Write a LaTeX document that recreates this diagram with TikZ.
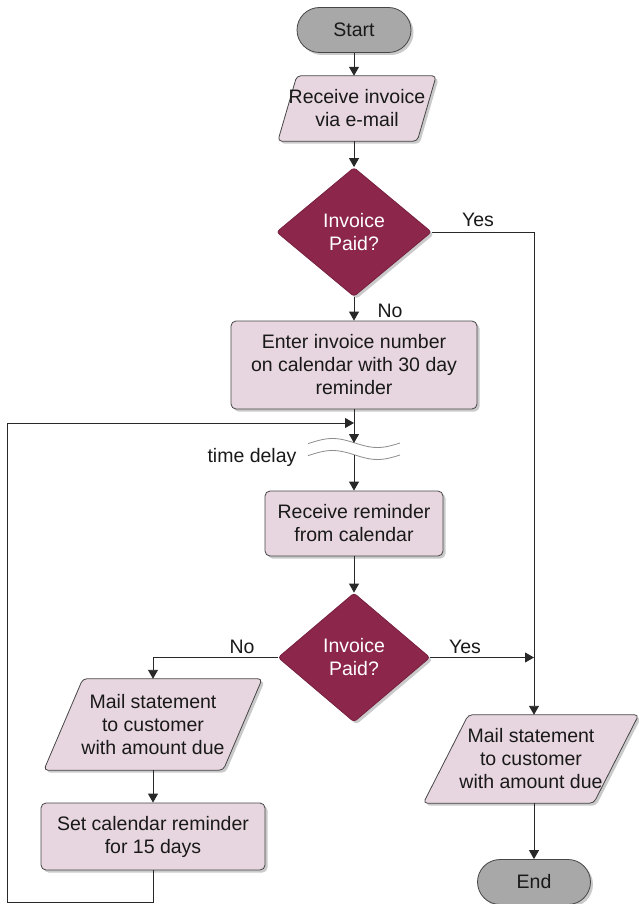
\documentclass[tikz,border=0pt]{standalone}
\usepackage{fontspec}
\setmainfont{Liberation Sans}
\usetikzlibrary{shapes.geometric,shapes.misc,arrows.meta,shadows,backgrounds}
\definecolor{boxpink}{RGB}{231,214,223}
\definecolor{maroon}{RGB}{140,38,74}
\definecolor{termgray}{RGB}{168,168,168}
\definecolor{edge}{RGB}{70,70,70}
\definecolor{wire}{RGB}{40,40,40}

\begin{document}
\begin{tikzpicture}[x=1pt,y=-1pt,
  every node/.style={font=\fontsize{19.5}{23}\selectfont, align=center, text=black!90},
  softshadow/.style={drop shadow={shadow xshift=2.5pt,shadow yshift=-2.5pt,opacity=0.35,fill=black!60}},
  procbox/.style={rectangle, rounded corners=5pt, draw=edge, line width=0.8pt, fill=boxpink, softshadow, inner sep=0pt},
  termbox/.style={rounded rectangle, draw=edge, line width=0.8pt, fill=termgray, softshadow, inner sep=0pt},
  decbox/.style={diamond, draw=maroon!85!black, line width=0.8pt, fill=maroon, text=white, softshadow, inner sep=0pt, rounded corners=3pt},
  iobox/.style={rectangle, inner sep=0pt},
  iofill/.style={draw=edge, line width=0.8pt, fill=boxpink, rounded corners=4pt, softshadow},
  wireline/.style={draw=wire, line width=0.9pt},
  link/.style={wireline, -{Triangle[length=9pt,width=10pt]}},
  lbl/.style={inner sep=1pt},
  breakline/.style={draw=black!45, line width=0.8pt}
]
\useasboundingbox (0,0) rectangle (639,904);

% ---- nodes ----
\node[termbox, minimum width=114pt, minimum height=45pt] (start) at (354,30) {Start};
\node[iobox, minimum width=158pt, minimum height=65pt] (recv) at (357,108.5) {Receive invoice\\via e-mail};
\node[decbox, minimum width=155pt, minimum height=129pt] (dec1) at (354,232) {Invoice\\Paid?};
\node[procbox, minimum width=246pt, minimum height=88pt] (enter) at (354,365) {Enter invoice number\\on calendar with 30 day\\reminder};
\node[procbox, minimum width=178pt, minimum height=65pt] (remind) at (354,523.5) {Receive reminder\\from calendar};
\node[decbox, minimum width=152pt, minimum height=129pt] (dec2) at (354,657.5) {Invoice\\Paid?};
\node[iobox, minimum width=218pt, minimum height=91pt] (mail1) at (153,724.5) {Mail statement\\to customer\\with amount due};
\node[procbox, minimum width=224pt, minimum height=67pt] (setcal) at (153,836.5) {Set calendar reminder\\for 15 days};
\node[iobox, minimum width=215pt, minimum height=88pt] (mail2) at (531,759) {Mail statement\\to customer\\with amount due};
\node[termbox, minimum width=113pt, minimum height=45pt] (finish) at (534,882) {End};
\node[lbl] (delaytxt) at (252,457) {time delay};

% ---- parallelogram outlines behind the input/output nodes ----
\begin{scope}[on background layer]
  \path[iofill] ([xshift=19pt]recv.north west) -- (recv.north east) -- ([xshift=-19pt]recv.south east) -- (recv.south west) -- cycle;
  \path[iofill] ([xshift=39pt]mail1.north west) -- (mail1.north east) -- ([xshift=-39pt]mail1.south east) -- (mail1.south west) -- cycle;
  \path[iofill] ([xshift=45pt]mail2.north west) -- (mail2.north east) -- ([xshift=-45pt]mail2.south east) -- (mail2.south west) -- cycle;
\end{scope}

% ---- helper points ----
\coordinate (yesx) at (534,232);
\coordinate (loopin) at (354,423);
\coordinate (delaytop) at (354,443);
\coordinate (delaybot) at (354,455);
\coordinate (lb) at (7,902);

% ---- time-delay break mark ----
\fill[white] plot[domain=308:400,samples=50] (\x,{443-4.5*sin(4*(\x-310))})
  -- plot[domain=400:308,samples=50] (\x,{455-4.5*sin(4*(\x-310))}) -- cycle;
\draw[breakline] plot[domain=308:400,samples=50] (\x,{443-4.5*sin(4*(\x-310))});
\draw[breakline] plot[domain=308:400,samples=50] (\x,{455-4.5*sin(4*(\x-310))});

% ---- connectors ----
\draw[link] (start.south) -- (start.south |- recv.north);
\draw[link] (dec1.north |- recv.south) -- (dec1.north);
\draw[link] (dec1.south) -- (enter.north);
\node[lbl] at (390,311) {No};
\draw[wireline] (dec1.east) -- (yesx);
\node[lbl] at (478,220) {Yes};
\draw[link] (yesx) -- (yesx |- mail2.north);
\draw[link] (enter.south) -- (delaytop);
\draw[link] (setcal.south) |- (lb) |- (loopin);
\draw[link] (delaybot) -- (remind.north);
\draw[link] (remind.south) -- (dec2.north);
\draw[link] (dec2.west) -| (mail1.north);
\node[lbl] at (242,647) {No};
\draw[link] (dec2.east) -- (yesx |- dec2.east);
\node[lbl] at (465,647) {Yes};
\draw[link] (mail1.south) -- (setcal.north);
\draw[link] (yesx |- mail2.south) -- (finish.north);
\end{tikzpicture}
\end{document}
